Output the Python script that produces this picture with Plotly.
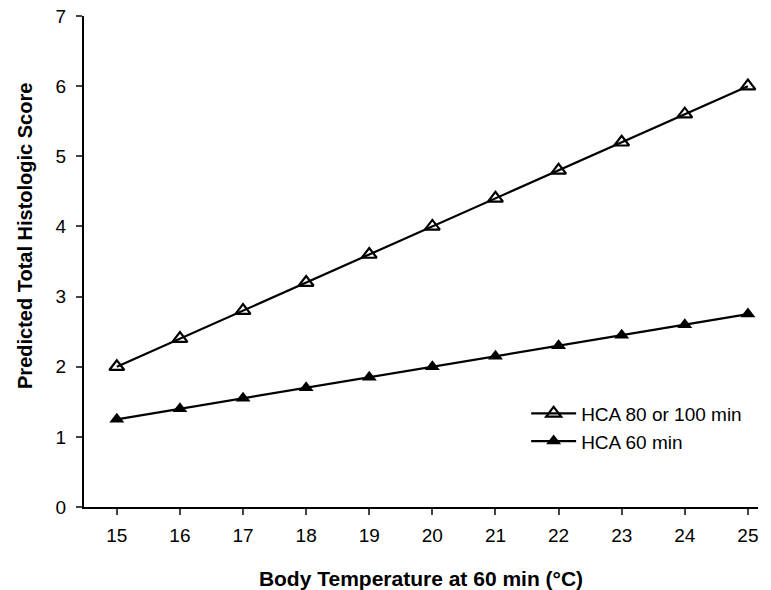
import plotly.graph_objects as go

temps = [15, 16, 17, 18, 19, 20, 21, 22, 23, 24, 25]
hca_80_100 = [2.0, 2.4, 2.8, 3.2, 3.6, 4.0, 4.4, 4.8, 5.2, 5.6, 6.0]
hca_60 = [1.25, 1.4, 1.55, 1.7, 1.85, 2.0, 2.15, 2.3, 2.45, 2.6, 2.75]
y_ticks = [0, 1, 2, 3, 4, 5, 6, 7]

fig = go.Figure()
fig.add_trace(go.Scatter(
    x=temps, y=hca_80_100, mode="lines+markers", name="HCA 80 or 100 min",
    legendgroup="a",
    line=dict(color="black", width=2.2),
    marker=dict(symbol="triangle-up-open", size=13, color="black", line=dict(width=2.2)),
))
fig.add_trace(go.Scatter(
    x=temps, y=hca_60, mode="lines+markers", name="HCA 60 min",
    legendgroup="b",
    line=dict(color="black", width=2.2),
    marker=dict(symbol="triangle-up", size=13, color="black"),
))

font = "Liberation Sans, Arial, sans-serif"
fig.update_layout(
    width=771, height=590,
    margin=dict(l=84, r=13, t=16, b=83),
    paper_bgcolor="white", plot_bgcolor="white",
    font=dict(family=font, size=19, color="black"),
    showlegend=True,
    legend=dict(x=0.656, y=0.229, xanchor="left", yanchor="top", itemwidth=45,
                bgcolor="rgba(0,0,0,0)", font=dict(size=19), tracegroupgap=0),
    xaxis=dict(range=[14.48, 25.16], tickvals=temps, ticks="outside", ticklen=6,
               tickwidth=1.5, showline=True, linecolor="black", linewidth=2,
               showgrid=False, zeroline=False, tickfont=dict(size=19),
               ticklabelstandoff=4, automargin=False,
               title=dict(text="<b>Body Temperature at 60 min (°C)</b>", font=dict(size=21), standoff=30)),
    yaxis=dict(range=[0, 7], tickvals=y_ticks, ticks="outside", ticklen=6,
               tickwidth=1.5, showline=True, linecolor="black", linewidth=2,
               showgrid=False, zeroline=False, tickfont=dict(size=19),
               ticklabelstandoff=6, automargin=False),
    annotations=[dict(
        text="<b>Predicted Total Histologic Score</b>", textangle=-90,
        xref="paper", yref="paper", x=-0.0875, y=0.552,
        xanchor="center", yanchor="middle", showarrow=False,
        font=dict(size=20, family=font, color="black"),
    )],
)
fig.write_html("out.html")
